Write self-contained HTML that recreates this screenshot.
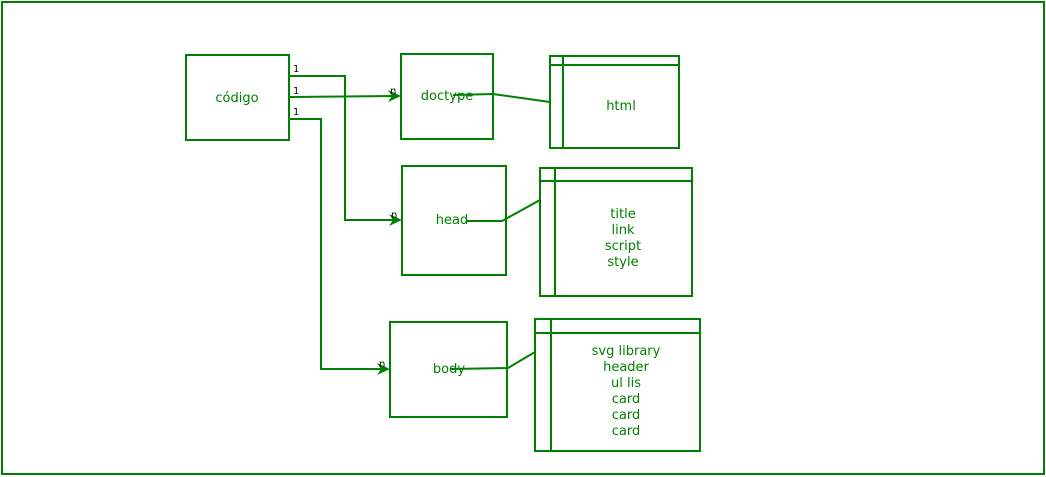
<!DOCTYPE html>
<html><head><meta charset="utf-8"><style>
html,body{margin:0;padding:0;background:#fff;width:1046px;height:477px;overflow:hidden}
</style></head><body>
<svg width="1046" height="477" viewBox="0 0 1046 477" xmlns="http://www.w3.org/2000/svg" font-family="DejaVu Sans, Liberation Sans, sans-serif">
<g fill="none" stroke="#008000" stroke-width="2">
<rect x="2" y="2" width="1042" height="472"/>
<rect x="186" y="55" width="103" height="85"/>
<rect x="401" y="54" width="92" height="85"/>
<rect x="402" y="166" width="104" height="109"/>
<rect x="390" y="322" width="117" height="95"/>
<rect x="550" y="56" width="129" height="92"/>
<line x1="550" y1="65" x2="679" y2="65"/><line x1="563" y1="56" x2="563" y2="148"/>
<rect x="540" y="168" width="152" height="128"/>
<line x1="540" y1="181" x2="692" y2="181"/><line x1="555" y1="168" x2="555" y2="296"/>
<rect x="535" y="319" width="165" height="132"/>
<line x1="535" y1="333" x2="700" y2="333"/><line x1="551" y1="319" x2="551" y2="451"/>
<polyline points="289,76 345,76 345,220 394,220"/>
<polyline points="289,97 394,96"/>
<polyline points="289,119 321,119 321,369 383,369"/>
<polyline points="453,95 493,94 550,102"/>
<polyline points="466,221 502,221 540,200"/>
<polyline points="450,369 508,368 535,352"/>
</g>
<g fill="#008000">
<polygon points="401,96 388,90 392,96 388,102"/>
<polygon points="402,220 389,214 393,220 389,226"/>
<polygon points="390,369 377,363 381,369 377,375"/>
</g>
<g fill="#000" font-size="10">
<text x="293" y="72">1</text>
<text x="293" y="94">1</text>
<text x="293" y="115">1</text>
<text x="390" y="94">n</text>
<text x="391" y="218">n</text>
<text x="379" y="367">n</text>
</g>
<g text-anchor="middle" fill="#008000" font-size="13">
<text x="237" y="102">código</text>
<text x="447" y="100">doctype</text>
<text x="452" y="224">head</text>
<text x="449" y="373">body</text>
<text x="621" y="110">html</text>
<text x="623" y="218">title</text>
<text x="623" y="234">link</text>
<text x="623" y="250">script</text>
<text x="623" y="266">style</text>
<text x="626" y="355">svg library</text>
<text x="626" y="371">header</text>
<text x="626" y="387">ul lis</text>
<text x="626" y="403">card</text>
<text x="626" y="419">card</text>
<text x="626" y="435">card</text>
</g>
</svg>
</body></html>
